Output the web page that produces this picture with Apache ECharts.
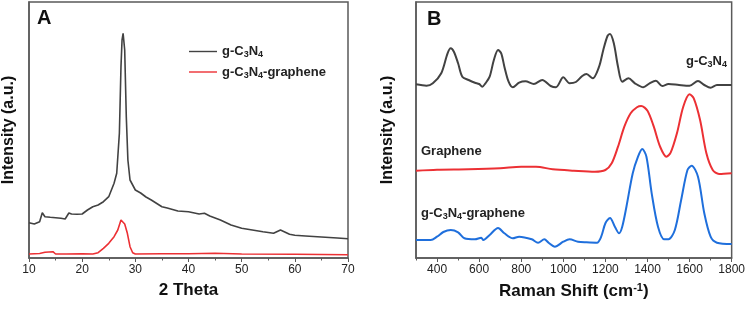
<!DOCTYPE html>
<html lang="en">
<head>
  <meta charset="UTF-8">
  <title>XRD and Raman</title>
  <script src="https://cdn.jsdelivr.net/npm/echarts@6/dist/echarts.min.js"></script>
  <style>
    html, body { margin: 0; padding: 0; background: #fff; }
    #chart { width: 748px; height: 309px; }
  </style>
</head>
<body>
<div id="chart"></div>
<script>
  // --- panel A: XRD ---
  var xrdX = [10, 11, 12, 12.5, 13, 14, 15, 16, 16.8, 17.5, 18, 19, 20, 21, 22, 23, 24, 25, 26, 26.5, 27, 27.3, 27.5, 27.7, 28, 28.3, 28.6, 29, 30, 31, 32, 33, 35, 36, 38, 40, 42, 43, 44, 46, 48, 50, 52, 54, 56, 57.3, 58, 59, 60, 62, 65, 68, 70];
  var xrdC3N4 = [35.3, 34, 36.3, 45.3, 41.3, 40.7, 40.3, 39.7, 39, 45, 44, 43.7, 44, 48, 51.3, 53, 56.3, 61.3, 74.7, 84.7, 124.7, 191.3, 218, 224.7, 208, 141.3, 98, 78, 68, 65, 61, 58, 51.3, 50, 47, 46.3, 44, 44.7, 42, 38, 33, 29.7, 28, 26.3, 24.7, 28, 26.3, 23.7, 22.7, 22, 21, 20, 19.3];
  var xrdGX = [10, 12, 13, 14.5, 15, 17, 20, 22, 23, 24, 25, 26, 26.7, 27.3, 27.6, 28, 28.5, 29, 29.5, 30, 35, 40, 45, 50, 60, 70];
  var xrdGraphene = [4, 4.5, 5.7, 6.3, 4, 4, 4.3, 4, 5.3, 9.7, 14.7, 21.3, 28, 38, 36.3, 34, 24.7, 11.3, 5.3, 4, 4.3, 4.3, 4.7, 4, 3.7, 3.3];

  // --- panel B: Raman ---
  var ramanCX = [300, 350, 380, 420, 450, 465, 480, 500, 520, 550, 580, 600, 615, 630, 650, 670, 690, 705, 720, 740, 760, 790, 820, 860, 900, 940, 965, 1000, 1030, 1060, 1090, 1110, 1140, 1170, 1190, 1210, 1222, 1240, 1260, 1280, 1310, 1340, 1380, 1410, 1440, 1470, 1500, 1550, 1600, 1640, 1670, 1700, 1730, 1800];
  var ramanC3N4 = [173.7, 172.3, 174.7, 184.7, 204.7, 209.7, 206.3, 194.7, 181.3, 178, 175.3, 174, 171.3, 174.7, 181.3, 198, 208, 204.7, 191.3, 176.3, 170.7, 175.3, 176.7, 174, 178, 172, 170.7, 180.7, 174.7, 176, 182, 184, 179.7, 191.3, 208, 222, 224, 214.7, 191.3, 176.3, 179.7, 174.7, 170.7, 174.7, 177.3, 172, 174, 173, 172.3, 177, 173, 170.3, 173, 173];
  var ramanGX = [300, 400, 550, 700, 800, 870, 950, 1050, 1150, 1200, 1230, 1260, 1290, 1320, 1350, 1370, 1400, 1430, 1460, 1490, 1510, 1540, 1570, 1600, 1620, 1650, 1680, 1710, 1740, 1800];
  var ramanGraphene = [87.3, 88.3, 88.7, 89.7, 91.3, 91.3, 88.7, 87.3, 86.3, 88, 94.7, 111.3, 131.3, 144.7, 150.7, 152, 147.3, 131.3, 111.3, 101.3, 105.3, 124.7, 151.3, 163.7, 159.7, 138, 104.7, 88, 84, 84.7];
  var ramanMX = [300, 370, 400, 430, 465, 500, 530, 580, 610, 620, 650, 690, 720, 760, 790, 850, 880, 910, 930, 960, 1000, 1030, 1070, 1110, 1160, 1180, 1200, 1222, 1245, 1265, 1280, 1300, 1330, 1355, 1375, 1395, 1420, 1450, 1480, 1500, 1530, 1560, 1590, 1610, 1640, 1670, 1700, 1730, 1800];
  var ramanMix = [18, 18, 21.3, 26, 28, 25.7, 19.7, 18.7, 20.3, 18, 23, 30, 24.7, 19.7, 21.3, 18.7, 15.3, 18.7, 15.3, 11.3, 16.3, 18.7, 16.3, 15.7, 15.3, 21.3, 34.7, 40, 31.3, 24.7, 31.3, 51.3, 84.7, 101.3, 109, 101.3, 64.7, 31.3, 18.7, 18.7, 28, 58, 88, 92.3, 81.3, 44.7, 21.3, 15.3, 14];

  var ramanMajor = [400, 600, 800, 1000, 1200, 1400, 1600, 1800];

  function pairs(xs, ys) {
    return xs.map(function (x, i) { return [x, ys[i]]; });
  }

  var FONT = 'Liberation Sans, Arial, sans-serif';
  var FRAME = '#5a5a5a';
  var BLACK = '#424242', RED = '#ec3034', BLUE = '#1f6fdc';
  var sub = { fontSize: 9, fontWeight: 'bold', fontFamily: FONT, color: '#222', padding: [7, 0, 0, 0] };
  var sup = { fontSize: 11, fontWeight: 'bold', fontFamily: FONT, color: '#111', padding: [0, 0, 8, 0] };

  function xAxisBase(gridIndex) {
    return {
      type: 'value', gridIndex: gridIndex, position: 'bottom',
      axisLine: { show: true, lineStyle: { color: FRAME, width: 1.5 } },
      axisTick: { show: true, inside: false, length: 4, lineStyle: { color: FRAME, width: 1 } },
      axisLabel: { color: '#222', fontSize: 12, fontFamily: FONT, margin: 6,
        formatter: function (v) { return String(v); } },
      splitLine: { show: false },
      nameLocation: 'middle',
      nameTextStyle: { fontSize: 17, fontWeight: 'bold', fontFamily: FONT, color: '#111' }
    };
  }
  function yAxisBase(gridIndex, gap) {
    return {
      type: 'value', gridIndex: gridIndex, min: 0, max: 256,
      axisLine: { show: true, lineStyle: { color: FRAME, width: 1.5 } },
      axisTick: { show: false }, axisLabel: { show: false }, splitLine: { show: false },
      name: 'Intensity (a.u.)', nameLocation: 'middle', nameGap: gap,
      nameTextStyle: { fontSize: 16, fontWeight: 'bold', fontFamily: FONT, color: '#111' }
    };
  }

  var xA = xAxisBase(0);
  xA.min = 10; xA.max = 70; xA.interval = 10;
  xA.name = '2 Theta'; xA.nameGap = 24;
  xA.minorTick = { show: true, splitNumber: 2, length: 2.5, lineStyle: { color: FRAME, width: 1 } };

  var xB = xAxisBase(1);
  xB.min = 300; xB.max = 1800; xB.interval = 100;
  xB.axisTick.length = 2.5;
  xB.axisLabel.customValues = ramanMajor;
  xB.name = '{t|Raman Shift (cm}{sup|-1}{t|)}'; xB.nameGap = 24;
  xB.nameTextStyle.rich = {
    t: { fontSize: 17, fontWeight: 'bold', fontFamily: FONT, color: '#111' },
    sup: sup
  };

  // second bottom axis on panel B: longer ticks at the labelled values only
  var xB2 = {
    type: 'value', gridIndex: 1, position: 'bottom', offset: 0, min: 300, max: 1800,
    axisLine: { show: false }, splitLine: { show: false }, axisLabel: { show: false },
    axisTick: { show: true, length: 4, customValues: ramanMajor, lineStyle: { color: FRAME, width: 1 } }
  };

  var lineOpts = { type: 'line', showSymbol: false, symbol: 'none', smooth: 0.3, animation: false };

  var option = {
    animation: false,
    grid: [
      { left: 29, right: 400, top: 2, bottom: 51, show: true, borderColor: FRAME, borderWidth: 1.5 },
      { left: 416, right: 14, top: 2, bottom: 51, show: true, borderColor: FRAME, borderWidth: 1.5 }
    ],
    xAxis: [xA, xB, xB2],
    yAxis: [yAxisBase(0, 12), yAxisBase(1, 20)],
    legend: {
      orient: 'vertical', left: 184, top: 40, itemWidth: 28, itemHeight: 14, itemGap: 6,
      icon: 'path://M0,6.3 L28,6.3 L28,7.7 L0,7.7 Z',
      data: ['g-C3N4', 'g-C3N4-graphene'],
      formatter: function (n) {
        return n === 'g-C3N4' ? 'g-C{s|3}N{s|4}' : 'g-C{s|3}N{s|4}-graphene';
      },
      textStyle: { fontSize: 13, fontWeight: 'bold', fontFamily: FONT, color: '#222', rich: { s: sub } }
    },
    graphic: [
      { type: 'text', left: 37, top: 8, style: { text: 'A', font: 'bold 20px ' + FONT, fill: '#111' } },
      { type: 'text', left: 427, top: 9, style: { text: 'B', font: 'bold 20px ' + FONT, fill: '#111' } },
      { type: 'text', right: 21, top: 55, style: { text: 'g-C{s|3}N{s|4}', font: 'bold 13px ' + FONT, fill: '#222', rich: { s: sub } } },
      { type: 'text', left: 421, top: 145, style: { text: 'Graphene', font: 'bold 13px ' + FONT, fill: '#222' } },
      { type: 'text', left: 421, top: 207, style: { text: 'g-C{s|3}N{s|4}-graphene', font: 'bold 13px ' + FONT, fill: '#222', rich: { s: sub } } }
    ],
    series: [
      Object.assign({}, lineOpts, { name: 'g-C3N4', xAxisIndex: 0, yAxisIndex: 0, smooth: false,
        data: pairs(xrdX, xrdC3N4), lineStyle: { color: BLACK, width: 1.6 }, itemStyle: { color: BLACK } }),
      Object.assign({}, lineOpts, { name: 'g-C3N4-graphene', xAxisIndex: 0, yAxisIndex: 0, smooth: false,
        data: pairs(xrdGX, xrdGraphene), lineStyle: { color: RED, width: 1.6 }, itemStyle: { color: RED } }),
      Object.assign({}, lineOpts, { name: 'Raman g-C3N4', xAxisIndex: 1, yAxisIndex: 1,
        data: pairs(ramanCX, ramanC3N4), lineStyle: { color: BLACK, width: 2 } }),
      Object.assign({}, lineOpts, { name: 'Raman Graphene', xAxisIndex: 1, yAxisIndex: 1,
        data: pairs(ramanGX, ramanGraphene), lineStyle: { color: RED, width: 2 } }),
      Object.assign({}, lineOpts, { name: 'Raman g-C3N4-graphene', xAxisIndex: 1, yAxisIndex: 1,
        data: pairs(ramanMX, ramanMix), lineStyle: { color: BLUE, width: 2 } })
    ]
  };

  var chart = echarts.init(document.getElementById('chart'));
  chart.setOption(option);
</script>
</body>
</html>
